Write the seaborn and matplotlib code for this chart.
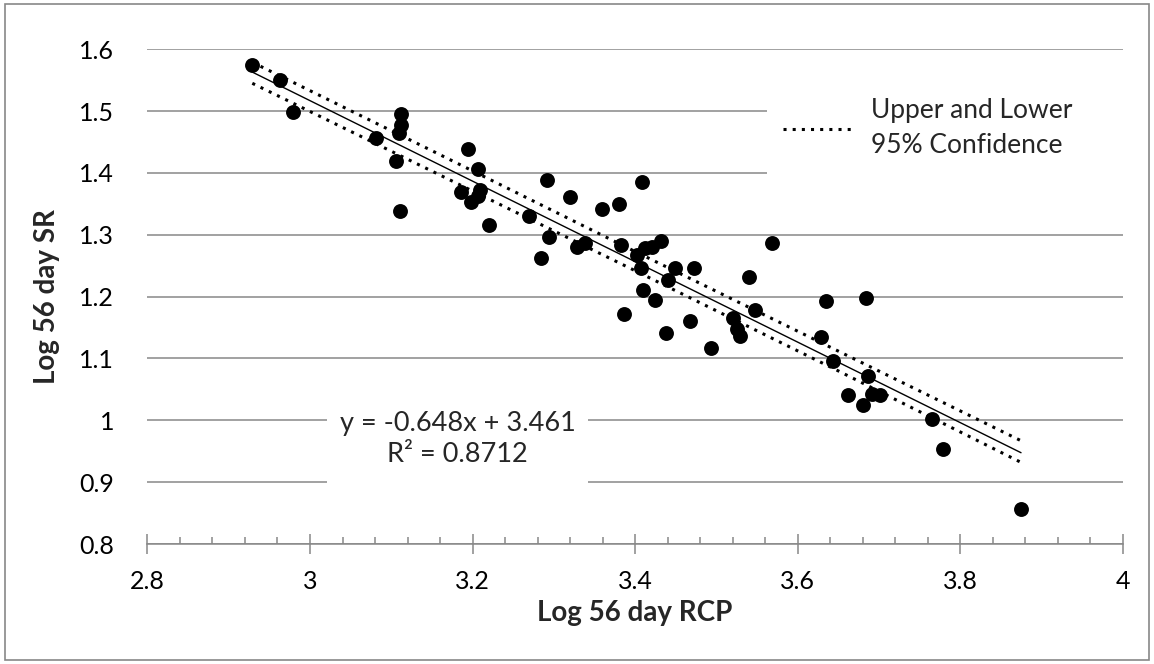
import matplotlib
matplotlib.use("Agg")
import matplotlib.pyplot as plt
import matplotlib.ticker as mticker
from matplotlib.patches import Rectangle
import pandas as pd
import seaborn as sns

# values
log_rcp = [
	2.929, 2.963, 2.979, 3.081, 3.112, 3.112, 3.110, 3.106, 3.111, 3.194,
	3.207, 3.186, 3.209, 3.207, 3.198, 3.220, 3.269, 3.284, 3.294, 3.320,
	3.292, 3.359, 3.380, 3.408, 3.328, 3.338, 3.383, 3.403, 3.412, 3.421,
	3.432, 3.407, 3.449, 3.473, 3.441, 3.410, 3.425, 3.386, 3.438, 3.468,
	3.494, 3.521, 3.526, 3.529, 3.540, 3.548, 3.569, 3.635, 3.629, 3.644,
	3.684, 3.687, 3.662, 3.691, 3.701, 3.681, 3.765, 3.779, 3.875,
]
log_sr = [
	1.575, 1.550, 1.499, 1.457, 1.495, 1.478, 1.465, 1.419, 1.338, 1.438,
	1.407, 1.369, 1.373, 1.362, 1.353, 1.316, 1.331, 1.263, 1.297, 1.361,
	1.389, 1.341, 1.350, 1.385, 1.281, 1.287, 1.284, 1.267, 1.278, 1.280,
	1.290, 1.246, 1.246, 1.246, 1.227, 1.210, 1.194, 1.172, 1.142, 1.161,
	1.117, 1.165, 1.148, 1.136, 1.231, 1.179, 1.286, 1.193, 1.135, 1.096,
	1.198, 1.071, 1.041, 1.042, 1.041, 1.024, 1.002, 0.953, 0.856,
]

# confidence band
band_x = [2.929, 3.15, 3.40, 3.65, 3.875]
band_upper = [1.579, 1.436, 1.273, 1.112, 0.967]
band_lower = [1.545, 1.403, 1.242, 1.080, 0.932]

xtick_values = [2.8, 3.0, 3.2, 3.4, 3.6, 3.8, 4.0]
xtick_labels = ["2.8", "3", "3.2", "3.4", "3.6", "3.8", "4"]
ytick_values = [0.8, 0.9, 1.0, 1.1, 1.2, 1.3, 1.4, 1.5, 1.6]
ytick_labels = ["0.8", "0.9", "1", "1.1", "1.2", "1.3", "1.4", "1.5", "1.6"]

equation_text = "y = -0.648x + 3.461\nR² = 0.8712"
legend_text = "Upper and Lower\n95% Confidence"

grid_grey = "#878787"
font_size = 18


def main() -> None:
	sns.set_theme(style="white")
	plt.rcParams["font.family"] = ["Lato", "DejaVu Sans"]

	df = pd.DataFrame({"rcp": log_rcp, "sr": log_sr})

	fig = plt.figure(figsize=(11.54, 6.64), dpi=100)
	ax = fig.add_axes([0.1278, 0.1807, 0.845, 0.7451])

	sns.regplot(
		data=df,
		x="rcp",
		y="sr",
		ci=None,
		ax=ax,
		color="black",
		scatter_kws={"s": 115, "alpha": 1, "linewidths": 0, "zorder": 3},
		line_kws={"lw": 1.0, "zorder": 2},
	)
	ax.plot(
		band_x, band_upper, color="black", lw=2.2, linestyle=(0, (1, 2)),
		zorder=2, label=legend_text,
	)
	ax.plot(
		band_x, band_lower, color="black", lw=2.2, linestyle=(0, (1, 2)),
		zorder=2,
	)

	ax.set_xlim(2.8, 4.0)
	ax.set_ylim(0.8, 1.6)
	ax.set_xticks(xtick_values)
	ax.set_xticklabels(xtick_labels)
	ax.set_yticks(ytick_values)
	ax.set_yticklabels(ytick_labels)
	ax.xaxis.set_minor_locator(mticker.MultipleLocator(0.04))

	ax.set_axisbelow(True)
	ax.yaxis.grid(True, color=grid_grey, lw=1.1)
	for side in ("left", "right", "top"):
		ax.spines[side].set_visible(False)
	ax.spines["bottom"].set_color(grid_grey)
	ax.spines["bottom"].set_linewidth(1.1)

	ax.tick_params(axis="y", length=0, pad=24, labelsize=font_size, labelcolor="black")
	ax.tick_params(
		axis="x", which="major", direction="inout", length=14, width=1.1,
		color=grid_grey, pad=12, labelsize=font_size, labelcolor="black",
	)
	ax.tick_params(axis="x", which="minor", direction="in", length=5, width=1.1, color=grid_grey)
	ax.xaxis.set_ticks_position("bottom")

	ax.set_xlabel("Log 56 day RCP", fontsize=font_size + 2, fontweight="bold", labelpad=5)
	ax.set_ylabel("Log 56 day SR", fontsize=font_size + 2, fontweight="bold", labelpad=14)

	# white box behind the trendline equation
	ax.add_patch(Rectangle(
		(0.184, 0.105), 0.268, 0.202, transform=ax.transAxes,
		facecolor="white", edgecolor="none", zorder=1,
	))
	ax.text(
		0.318, 0.212, equation_text, transform=ax.transAxes, ha="center",
		va="center", multialignment="center", fontsize=font_size + 1.5,
		linespacing=1.3, zorder=4,
	)

	legend = ax.legend(
		loc="center left",
		bbox_to_anchor=(0.635, 0.70, 0.37, 0.28),
		mode="expand",
		frameon=True,
		fontsize=font_size + 1,
		handlelength=2.6,
		handletextpad=0.75,
		borderpad=0.6,
		borderaxespad=0,
		fancybox=False,
	)
	legend.get_frame().set_facecolor("white")
	legend.get_frame().set_edgecolor("none")
	legend.get_frame().set_alpha(1)
	for text in legend.get_texts():
		text.set_linespacing(1.5)

	fig.patches.append(Rectangle(
		(0.004, 0.006), 0.992, 0.988, transform=fig.transFigure,
		fill=False, edgecolor=grid_grey, lw=1.2,
	))

	fig.savefig("out.png", dpi=100)
	plt.close(fig)


if __name__ == "__main__":
	main()
